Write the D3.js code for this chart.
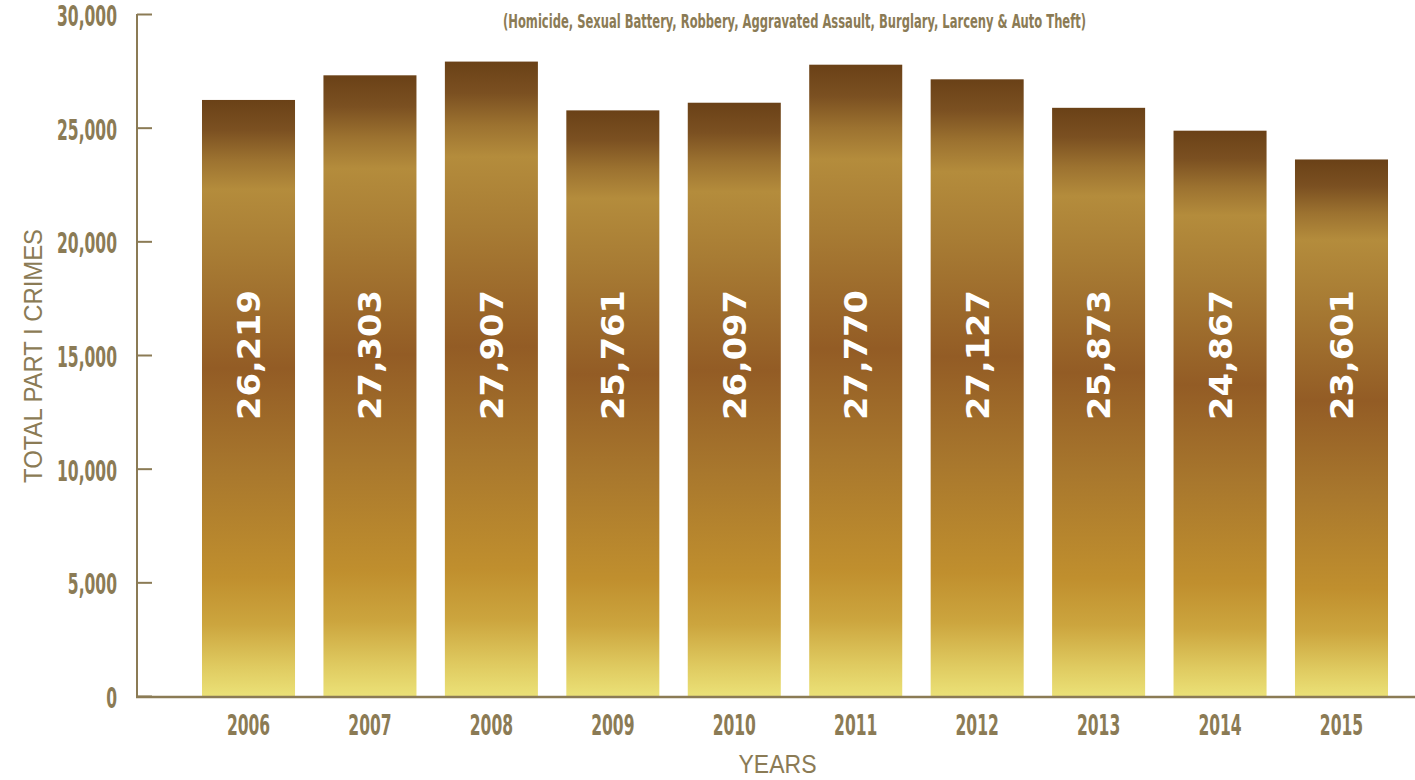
<!DOCTYPE html>
<html>
<head>
<meta charset="utf-8">
<script src="https://cdn.jsdelivr.net/npm/d3@7/dist/d3.min.js"></script>
<style>
  html, body { margin: 0; padding: 0; background: #ffffff; }
  svg { display: block; }
</style>
</head>
<body>
<svg id="chart" width="1415" height="780"></svg>
<script>
// ---- data ----
const years = ["2006", "2007", "2008", "2009", "2010", "2011", "2012", "2013", "2014", "2015"];
const totals = [26219, 27303, 27907, 25761, 26097, 27770, 27127, 25873, 24867, 23601];
const yTicks = [0, 5000, 10000, 15000, 20000, 25000, 30000];
const subtitle = "(Homicide, Sexual Battery, Robbery, Aggravated Assault, Burglary, Larceny & Auto Theft)";
const yTitle = "TOTAL PART I CRIMES";
const xTitle = "YEARS";

const ink = "#8b7b55";
const narrow = "'Liberation Sans Narrow', 'DejaVu Sans Condensed', 'Arial Narrow', sans-serif";
const svg = d3.select("#chart");

const x = d3.scaleBand().domain(years).range([202, 1388]).paddingInner(0.234).paddingOuter(0);
const y = d3.scaleLinear().domain([0, 30000]).range([696, 14]);

// gradient (per bar, bounding box)
const defs = svg.append("defs");
const grad = defs.append("linearGradient").attr("id", "gold").attr("x1", 0).attr("y1", 0).attr("x2", 0).attr("y2", 1);
[
  [0.00, "#6a4117"], [0.05, "#7b5021"], [0.10, "#9c7230"], [0.15, "#b48c3c"],
  [0.26, "#a87c34"], [0.45, "#935c25"], [0.62, "#a8772d"], [0.80, "#c08f2e"],
  [0.88, "#cca53e"], [0.95, "#dfca60"], [1.00, "#ebe177"]
].forEach(s => grad.append("stop").attr("offset", s[0]).attr("stop-color", s[1]));

// bars
svg.append("g").selectAll("rect").data(years).join("rect")
  .attr("x", d => x(d))
  .attr("width", x.bandwidth())
  .attr("y", (d, i) => y(totals[i]))
  .attr("height", (d, i) => y(0) - y(totals[i]))
  .attr("fill", "url(#gold)");

// value labels
svg.append("g").selectAll("text").data(years).join("text")
  .attr("transform", d => `translate(${x(d) + x.bandwidth() / 2},355) rotate(-90)`)
  .attr("text-anchor", "middle")
  .attr("dy", 11.5)
  .attr("fill", "#ffffff")
  .attr("font-family", "'DejaVu Sans', sans-serif")
  .attr("font-weight", "bold")
  .attr("font-size", 32)
  .attr("textLength", 130)
  .attr("lengthAdjust", "spacingAndGlyphs")
  .text((d, i) => d3.format(",")(totals[i]));

// y axis
const yAxis = d3.axisRight(y).tickValues(yTicks).tickSize(15).tickFormat("");
const gy = svg.append("g").attr("transform", "translate(137,0)").call(yAxis);
gy.select(".domain").attr("stroke", ink).attr("stroke-width", 2).attr("d", "M0,14V697");
gy.selectAll(".tick line").attr("stroke", ink).attr("stroke-width", 2);

// y tick labels
const yl = svg.append("g").selectAll("text").data(yTicks).join("text")
  .attr("x", 117)
  .attr("y", d => y(d) + 12)
  .attr("text-anchor", "end")
  .attr("fill", ink)
  .attr("font-family", narrow)
  .attr("font-weight", "bold")
  .attr("font-size", 28)
  .text(d => d3.format(",")(d));

// x axis
const xAxis = d3.axisBottom(x).tickSize(0).tickFormat("");
const gx = svg.append("g").attr("transform", "translate(0,697)").call(xAxis);
gx.select(".domain").attr("stroke", ink).attr("stroke-width", 2.5).attr("d", "M136,0H1415");

const xl = svg.append("g").selectAll("text").data(years).join("text")
  .attr("x", d => x(d) + x.bandwidth() / 2)
  .attr("y", 735)
  .attr("text-anchor", "middle")
  .attr("fill", ink)
  .attr("font-family", narrow)
  .attr("font-weight", "bold")
  .attr("font-size", 28)
  .text(d => d);

// condense numeric labels to match reference width
const probe = svg.append("text").attr("font-family", narrow).attr("font-weight", "bold").attr("font-size", 28).text("30,000");
const k = 60 / probe.node().getComputedTextLength();
probe.remove();
yl.each(function () { d3.select(this).attr("textLength", this.getComputedTextLength() * k).attr("lengthAdjust", "spacingAndGlyphs"); });
xl.each(function () { d3.select(this).attr("textLength", this.getComputedTextLength() * k).attr("lengthAdjust", "spacingAndGlyphs"); });

// subtitle
svg.append("text")
  .attr("x", 794.5).attr("y", 28)
  .attr("text-anchor", "middle")
  .attr("fill", ink)
  .attr("font-family", narrow)
  .attr("font-weight", "bold")
  .attr("font-size", 20)
  .attr("textLength", 583)
  .attr("lengthAdjust", "spacingAndGlyphs")
  .text(subtitle);

// axis titles
svg.append("text")
  .attr("transform", "translate(42,356) rotate(-90)")
  .attr("text-anchor", "middle")
  .attr("fill", ink)
  .attr("font-family", "'Liberation Sans', Arial, sans-serif")
  .attr("font-size", 25)
  .attr("textLength", 254)
  .attr("lengthAdjust", "spacingAndGlyphs")
  .text(yTitle);

svg.append("text")
  .attr("x", 777.5).attr("y", 773)
  .attr("text-anchor", "middle")
  .attr("fill", ink)
  .attr("font-family", "'Liberation Sans', Arial, sans-serif")
  .attr("font-size", 25)
  .attr("textLength", 78)
  .attr("lengthAdjust", "spacingAndGlyphs")
  .text(xTitle);
</script>
</body>
</html>
